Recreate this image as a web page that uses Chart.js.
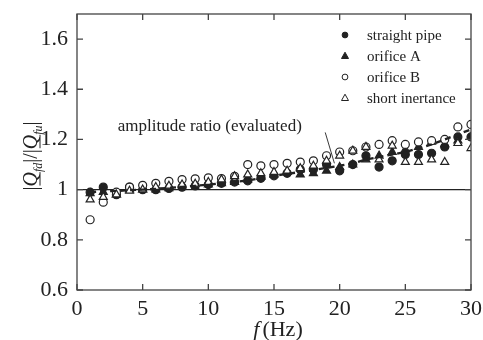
<!DOCTYPE html>
<html>
<head>
<meta charset="utf-8">
<script src="https://cdn.jsdelivr.net/npm/chart.js@4"></script>
<style>
html,body{margin:0;padding:0;background:#fff;}
#wrap{width:483px;height:340px;position:relative;}
</style>
</head>
<body>
<div id="wrap"><canvas id="c" width="483" height="340"></canvas></div>
<script>
// ---- data ----
const freq = [1,2,3,4,5,6,7,8,9,10,11,12,13,14,15,16,17,18,19,20,21,22,23,24,25,26,27,28,29,30];
const straightPipe = [0.99,1.01,0.98,1.01,1.0,1.0,1.005,1.01,1.015,1.02,1.025,1.03,1.035,1.045,1.055,1.065,1.08,1.08,1.10,1.075,1.10,1.135,1.09,1.115,1.14,1.14,1.145,1.17,1.21,1.21];
const orificeA = [0.985,0.99,0.98,1.0,1.0,1.0,1.005,1.01,1.01,1.02,1.025,1.03,1.04,1.05,1.06,1.07,1.06,1.065,1.075,1.09,1.10,1.12,1.135,1.15,1.16,1.17,1.19,1.18,1.195,1.21];
const orificeB = [0.88,0.95,0.99,1.01,1.017,1.025,1.033,1.04,1.043,1.047,1.044,1.053,1.10,1.095,1.10,1.105,1.11,1.115,1.135,1.15,1.155,1.17,1.18,1.195,1.18,1.19,1.195,1.20,1.25,1.26];
const shortInertance = [0.96,0.97,0.98,0.995,1.0,1.01,1.015,1.02,1.023,1.03,1.04,1.053,1.06,1.065,1.07,1.075,1.085,1.095,1.115,1.135,1.155,1.17,1.12,1.175,1.11,1.11,1.12,1.11,1.185,1.165];
const evalFreq = [1,2,3,4,5,6,7,8,9,10,11,12,13,14,15,16,17,18,19,20,21,22,23,24,25,26,27,28,29,30];
const evalRatio = [0.99,0.993,0.995,0.998,1.0,1.003,1.007,1.011,1.015,1.02,1.025,1.03,1.037,1.045,1.055,1.063,1.07,1.078,1.087,1.095,1.105,1.12,1.13,1.14,1.15,1.165,1.18,1.20,1.22,1.24];
const refFreq = [0,30];
const refRatio = [1,1];
const xTicks = [0,5,10,15,20,25,30];
const yTicks = [0.6,0.8,1,1.2,1.4,1.6];
const seriesLabels = ['straight pipe','orifice A','orifice B','short inertance'];
const annotationText = 'amplitude ratio (evaluated)';

const pts = (xs, ys) => xs.map((x,i)=>({x:x,y:ys[i]}));
const SERIF = '"Liberation Serif","DejaVu Serif",serif';
const INK = '#222';

const markerDefs = [
  {style:'circle', fill:INK, r:4},
  {style:'triangle', fill:INK, r:4.6},
  {style:'circle', fill:'#fff', r:4},
  {style:'triangle', fill:'#fff', r:4.6}
];
const seriesData = [straightPipe, orificeA, orificeB, shortInertance];

const datasets = [
  {type:'line', label:'ref', data:pts(refFreq, refRatio), borderColor:INK, borderWidth:1.3, pointRadius:0, showLine:true, order:10},
  {type:'line', label:'evaluated', data:pts(evalFreq, evalRatio), borderColor:INK, borderWidth:2.4, borderDash:[6,4], pointRadius:0, showLine:true, order:1}
];
seriesData.forEach((s,i)=>{
  const m = markerDefs[i];
  datasets.push({type:'scatter', label:seriesLabels[i], data:pts(freq, s), pointStyle:m.style, pointRadius:m.r, pointHoverRadius:m.r,
    backgroundColor:m.fill, borderColor:INK, borderWidth:1.2, showLine:false, order:5-i});
});

const zeroPad = s => { s.paddingTop = 0; s.paddingBottom = 0; s.paddingLeft = 0; s.paddingRight = 0; };

const decor = {
  id:'decor',
  afterDraw(chart){
    const ctx = chart.ctx, a = chart.chartArea, xs = chart.scales.x, ys = chart.scales.y;
    ctx.save();
    // frame
    ctx.strokeStyle = '#444'; ctx.lineWidth = 1.3;
    ctx.strokeRect(a.left, a.top, a.right-a.left, a.bottom-a.top);
    // inward ticks
    ctx.beginPath();
    xTicks.forEach(v=>{ const p = xs.getPixelForValue(v); ctx.moveTo(p,a.bottom); ctx.lineTo(p,a.bottom-6); ctx.moveTo(p,a.top); ctx.lineTo(p,a.top+6); });
    yTicks.forEach(v=>{ const p = ys.getPixelForValue(v); ctx.moveTo(a.left,p); ctx.lineTo(a.left+6,p); ctx.moveTo(a.right,p); ctx.lineTo(a.right-6,p); });
    ctx.stroke();
    // legend
    const lx = 345, tx = 367;
    ctx.font = '15px ' + SERIF; ctx.textBaseline = 'middle'; ctx.textAlign = 'left';
    seriesLabels.forEach((lab,i)=>{
      const y = 35 + i*21;
      const m = markerDefs[i];
      ctx.fillStyle = m.fill; ctx.strokeStyle = INK; ctx.lineWidth = 1;
      ctx.beginPath();
      if (m.style==='circle'){ ctx.arc(lx, y, 2.9, 0, Math.PI*2); }
      else { ctx.moveTo(lx, y-3.8); ctx.lineTo(lx+3.5, y+2.5); ctx.lineTo(lx-3.5, y+2.5); ctx.closePath(); }
      ctx.fill(); ctx.stroke();
      ctx.fillStyle = INK; ctx.fillText(lab, tx, y+1);
    });
    // annotation
    ctx.font = '17px ' + SERIF; ctx.fillStyle = INK; ctx.textBaseline = 'middle';
    ctx.fillText(annotationText, xs.getPixelForValue(3.1), ys.getPixelForValue(1.25));
    ctx.beginPath(); ctx.lineWidth = 0.9; ctx.strokeStyle = INK;
    ctx.moveTo(xs.getPixelForValue(18.9), ys.getPixelForValue(1.228));
    ctx.lineTo(xs.getPixelForValue(19.6), ys.getPixelForValue(1.105));
    ctx.stroke();
    // y title
    ctx.save();
    ctx.translate(30, (a.top+a.bottom)/2 + 4);
    ctx.rotate(-Math.PI/2);
    const parts = [
      {t:'|', f:'20px '+SERIF, dy:0},
      {t:'Q', f:'italic 20px '+SERIF, dy:0, u:true},
      {t:'fd', f:'italic 12px '+SERIF, dy:5},
      {t:'|/|', f:'20px '+SERIF, dy:0},
      {t:'Q', f:'italic 20px '+SERIF, dy:0, u:true},
      {t:'fu', f:'italic 12px '+SERIF, dy:5},
      {t:'|', f:'20px '+SERIF, dy:0}
    ];
    let w = 0; parts.forEach(p=>{ ctx.font = p.f; p.w = ctx.measureText(p.t).width; w += p.w; });
    let x = -w/2; ctx.textBaseline = 'alphabetic'; ctx.textAlign='left';
    parts.forEach(p=>{
      ctx.font = p.f; ctx.fillText(p.t, x, 7 + p.dy);
      if (p.u){ ctx.beginPath(); ctx.lineWidth=1; ctx.moveTo(x+1, 10); ctx.lineTo(x+p.w, 10); ctx.stroke(); }
      x += p.w;
    });
    ctx.restore();
    // x title
    ctx.textBaseline = 'alphabetic';
    const f1 = 'italic 22px '+SERIF, f2 = '22px '+SERIF;
    ctx.font = f1; const w1 = ctx.measureText('f').width + 3;
    ctx.font = f2; const w2 = ctx.measureText('(Hz)').width;
    let sx = xs.getPixelForValue(15) - (w1+w2)/2 + 4;
    ctx.font = f1; ctx.fillText('f', sx, 336);
    ctx.font = f2; ctx.fillText('(Hz)', sx + w1, 336);
    ctx.restore();
  }
};

new Chart(document.getElementById('c'), {
  data:{datasets:datasets},
  options:{
    responsive:false, animation:false,
    layout:{autoPadding:false, padding:{top:14, right:12, left:0, bottom:0}},
    plugins:{legend:{display:false}, tooltip:{enabled:false}},
    scales:{
      x:{type:'linear', min:0, max:30,
        grid:{display:false, drawTicks:false}, border:{display:false},
        afterBuildTicks(s){ s.ticks = xTicks.map(v=>({value:v})); },
        ticks:{font:{family:SERIF, size:22}, color:INK, padding:6, maxRotation:0, callback:v=>String(v)},
        afterFit(s){ s.height = 50; zeroPad(s); }
      },
      y:{type:'linear', min:0.6, max:1.7,
        grid:{display:false, drawTicks:false}, border:{display:false},
        afterBuildTicks(s){ s.ticks = yTicks.map(v=>({value:v})); },
        ticks:{font:{family:SERIF, size:22}, color:INK, padding:9, callback:v=> (Math.abs(v-1)<1e-9 ? '1' : v.toFixed(1))},
        afterFit(s){ s.width = 77; zeroPad(s); }
      }
    }
  },
  plugins:[decor]
});
</script>
</body>
</html>
